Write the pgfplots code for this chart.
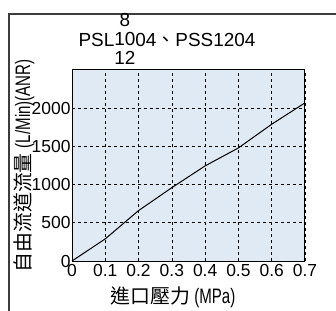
\documentclass[border=0pt]{standalone}
\usepackage{fontspec}
\usepackage{pgfplots}
\pgfplotsset{compat=1.18}
\setmainfont{Liberation Sans}
\newfontfamily\narrow{Liberation Sans}[FakeStretch=0.72]
\newfontfamily\cjk{Noto Sans CJK TC}
\definecolor{bgblue}{RGB}{223,234,244}
\definecolor{framegray}{RGB}{60,60,60}
\begin{document}
\begin{tikzpicture}[x=1bp,y=1bp]
\useasboundingbox (0,0) rectangle (336,311);
\draw[framegray, line width=1.1bp] (9,0) -- (9,297) -- (336,297);
\begin{axis}[
  at={(72bp,50bp)}, anchor=south west,
  scale only axis, width=233bp, height=191bp,
  xmin=0, xmax=0.7, ymin=0, ymax=2500,
  xtick={0,0.1,...,0.7}, ytick={0,500,1000,1500,2000},
  xticklabels={0,0.1,0.2,0.3,0.4,0.5,0.6,0.7},
  yticklabels={0,500,1000,1500,2000},
  major tick length=0pt,
  grid=major,
  major grid style={black, dashed, line width=0.6bp},
  axis line style={black, line width=1bp},
  axis background/.style={fill=bgblue},
  /pgf/number format/assume math mode=true,
  tick label style={font=\fontsize{17.5}{17.5}\selectfont},
  yticklabel style={xshift=2bp},
  clip=false,
]
\addplot[black, line width=1bp] coordinates {
  (0,0) (0.1,290) (0.2,660) (0.3,960) (0.4,1245) (0.5,1480) (0.6,1790) (0.7,2070)
};
\end{axis}
\node[font=\fontsize{19}{19}\selectfont, inner sep=0] at (167,269)
  {PSL{\renewcommand\arraystretch{1}\begin{tabular}{@{}c@{}}8\\10\\12\end{tabular}}04{\cjk 、}PSS1204};
\node[inner sep=0] at (173,14) {{\cjk\fontsize{20}{20}\selectfont 進口壓力}\hspace{4bp}{\narrow\fontsize{21}{21}\selectfont (MPa)}};
\node[inner sep=0, rotate=90] at (24,145) {{\cjk\fontsize{20}{20}\selectfont 自由流道流量}\hspace{5bp}{\narrow\fontsize{21}{21}\selectfont (L/Min)(ANR)}};
\end{tikzpicture}
\end{document}
